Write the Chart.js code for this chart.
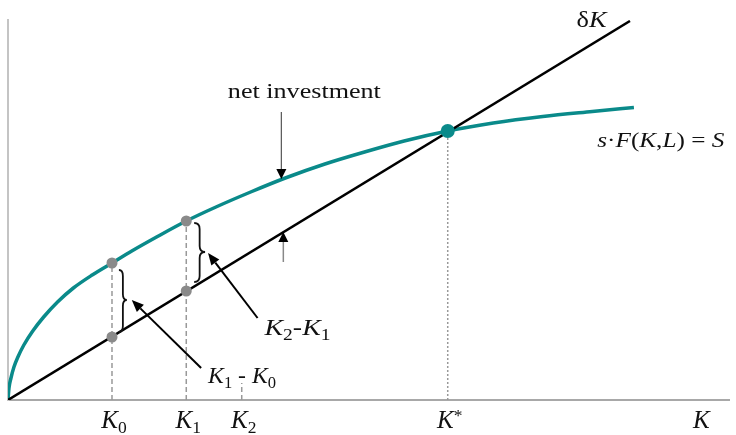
<!DOCTYPE html>
<html><head><meta charset="utf-8">
<script src="https://cdn.jsdelivr.net/npm/chart.js@4"></script>
<style>html,body{margin:0;padding:0;background:#fff;}canvas{display:block;}</style>
</head><body>
<canvas id="c" width="736" height="435"></canvas>
<script>
// Capital stock K along the savings curve (horizontal units)
const curveK  = [0, 1, 3, 6, 10, 16, 25, 36, 50, 66, 85, 105, 125, 150, 180, 210, 245, 280, 320, 360, 400, 444, 490, 540, 590, 632];
// Savings s·F(K,L) (vertical units)
const savings = [0, 12, 22, 33, 43, 55, 69, 83, 98, 112, 125, 137, 149, 163, 179, 193, 208, 222, 236, 248, 259, 269, 277, 283.5, 288.5, 292.5];
// Depreciation line δK endpoints
const deprK = [0, 628];
const deprY = [0, 379];
// Marked capital levels on the K axis
const markNames = ['K0', 'K1', 'K2', 'K*', 'K'];
const markK     = [105, 180, 236, 444, 700];
// Savings and depreciation at K0 and K1
const markSave = [137, 179];
const markDepr = [63, 109];
// Steady state height and the short K2 guide
const steadyY = 269;
const k2Guide = 17;
const axisMax = [728, 380];

const SERIF = '"Liberation Serif","Times New Roman",serif';
const TEAL = '#0a8a8a';

function pts(xs, ys){ return xs.map((x,i)=>({x, y:ys[i]})); }

function drawRich(ctx, segs, x, y, size, align, targetW){
  const parts = segs.map(s=>{
    const fs = (s.sub||s.sup) ? size*0.7 : size;
    const font = (s.i?'italic ':'') + fs + 'px ' + SERIF;
    ctx.font = font;
    return {t:s.t, font, w:ctx.measureText(s.t).width, dy: s.sub ? size*0.2 : (s.sup ? -size*0.3 : 0)};
  });
  const total = parts.reduce((a,p)=>a+p.w,0);
  const sx = targetW ? targetW/total : 1;
  let left = align==='center' ? x-total*sx/2 : x;
  ctx.save();
  ctx.translate(left, y);
  ctx.scale(sx, 1);
  ctx.textAlign='left'; ctx.textBaseline='alphabetic';
  let cx = 0;
  parts.forEach(p=>{ ctx.font=p.font; ctx.fillText(p.t, cx, p.dy); cx+=p.w; });
  ctx.restore();
}

function arrow(ctx, x1,y1,x2,y2, color, lw, hl, hw, headColor){
  const a = Math.atan2(y2-y1, x2-x1);
  const bx = x2 - hl*Math.cos(a), by = y2 - hl*Math.sin(a);
  ctx.save();
  ctx.strokeStyle=color; ctx.lineWidth=lw;
  ctx.beginPath(); ctx.moveTo(x1,y1); ctx.lineTo(bx,by); ctx.stroke();
  ctx.fillStyle=headColor||color;
  ctx.beginPath();
  ctx.moveTo(x2,y2);
  ctx.lineTo(bx + hw/2*Math.sin(a), by - hw/2*Math.cos(a));
  ctx.lineTo(bx - hw/2*Math.sin(a), by + hw/2*Math.cos(a));
  ctx.closePath(); ctx.fill();
  ctx.restore();
}

function brace(ctx, xl, xr, yt, yb, ym){
  const xm = (xl+xr)/2, q = 6;
  ctx.save(); ctx.strokeStyle='#111'; ctx.lineWidth=1.8;
  ctx.beginPath();
  ctx.moveTo(xl, yt);
  ctx.quadraticCurveTo(xm, yt, xm, yt+q);
  ctx.lineTo(xm, ym-q);
  ctx.quadraticCurveTo(xm, ym, xr, ym);
  ctx.quadraticCurveTo(xm, ym, xm, ym+q);
  ctx.lineTo(xm, yb-q);
  ctx.quadraticCurveTo(xm, yb, xl, yb);
  ctx.stroke(); ctx.restore();
}

// annotation anchors, in data units
const notes = {
  netInvText: {x:222, y:302, w:153},
  netArrow: [276, 288, 276, 221],
  upArrow: [278, 138, 278, 168],
  arrowK21: [252, 82, 202, 147],
  arrowK10: [195, 32, 125, 100],
  brace10: [112, 120, 130, 68, 100],
  brace21: [188, 199, 177, 118, 148],
  dkText: {x:574, y:373, w:30},
  sfText: {x:595, y:253, w:127},
  k21Text: {x:259, y:65, w:66},
  k10Text: {x:202, y:17, w:68}
};

const annot = {
  id:'annot',
  afterDatasetsDraw(chart){
    const ctx = chart.ctx, X = chart.scales.x, Y = chart.scales.y;
    const px = v=>X.getPixelForValue(v), py = v=>Y.getPixelForValue(v);
    ctx.save();
    ctx.fillStyle='#111';
    const n = notes;
    drawRich(ctx,[{t:'net investment'}], px(n.netInvText.x), py(n.netInvText.y), 22, 'left', n.netInvText.w);
    drawRich(ctx,[{t:'δ'},{t:'K',i:true}], px(n.dkText.x), py(n.dkText.y), 23, 'left', n.dkText.w);
    drawRich(ctx,[{t:'s',i:true},{t:'·'},{t:'F',i:true},{t:'('},{t:'K',i:true},{t:','},{t:'L',i:true},{t:') = '},{t:'S',i:true}], px(n.sfText.x), py(n.sfText.y), 22, 'left', n.sfText.w);
    drawRich(ctx,[{t:'K',i:true},{t:'2',sub:true},{t:'-'},{t:'K',i:true},{t:'1',sub:true}], px(n.k21Text.x), py(n.k21Text.y), 23, 'left', n.k21Text.w);
    drawRich(ctx,[{t:'K',i:true},{t:'1',sub:true},{t:' - '},{t:'K',i:true},{t:'0',sub:true}], px(n.k10Text.x), py(n.k10Text.y), 23, 'left', n.k10Text.w);
    // tick labels
    const base = Y.bottom + 28;
    markNames.forEach((nm,i)=>{
      let segs;
      if(nm==='K*') segs=[{t:'K',i:true},{t:'*',sup:true}];
      else if(nm.length>1) segs=[{t:'K',i:true},{t:nm.slice(1),sub:true}];
      else segs=[{t:'K',i:true}];
      drawRich(ctx, segs, px(markK[i])+(nm.length>1?2:0), base, 25, 'center');
    });
    // arrows
    let a = n.netArrow;
    arrow(ctx, px(a[0]),py(a[1]),px(a[2]),py(a[3]), '#555', 1.2, 10, 10, '#000');
    a = n.upArrow;
    arrow(ctx, px(a[0]),py(a[1]),px(a[2]),py(a[3]), '#888', 1.5, 10, 10, '#000');
    a = n.arrowK21;
    arrow(ctx, px(a[0]),py(a[1]),px(a[2]),py(a[3]), '#000', 2, 12, 10);
    a = n.arrowK10;
    arrow(ctx, px(a[0]),py(a[1]),px(a[2]),py(a[3]), '#000', 2, 12, 10);
    // braces
    let b = n.brace10;
    brace(ctx, px(b[0]), px(b[1]), py(b[2]), py(b[3]), py(b[4]));
    b = n.brace21;
    brace(ctx, px(b[0]), px(b[1]), py(b[2]), py(b[3]), py(b[4]));
    ctx.restore();
  }
};

const guide = (k, top, dash, color)=>({
  data:[{x:k,y:0},{x:k,y:top}], showLine:true, borderColor:color, borderWidth:1.5,
  borderDash:dash, pointRadius:0, order:5
});

new Chart(document.getElementById('c'), {
  type:'scatter',
  data:{datasets:[
    {data:[{x:markK[0],y:markSave[0]},{x:markK[0],y:markDepr[0]},{x:markK[1],y:markSave[1]},{x:markK[1],y:markDepr[1]}],
     pointRadius:5.5, backgroundColor:'#8a8a8a', borderWidth:0, order:0},
    {data:[{x:markK[3],y:steadyY}], pointRadius:7, backgroundColor:TEAL, borderWidth:0, order:0},
    {data:pts(curveK, savings), showLine:true, borderColor:TEAL, borderWidth:3.5, pointRadius:0, cubicInterpolationMode:'monotone', order:2},
    {data:pts(deprK, deprY), showLine:true, borderColor:'#000', borderWidth:2.5, pointRadius:0, order:1},
    guide(markK[0], markSave[0], [5,3], '#999'),
    guide(markK[1], markSave[1], [5,3], '#999'),
    guide(markK[2], k2Guide, [5,3], '#999'),
    guide(markK[3], steadyY, [2,2], '#999')
  ]},
  options:{
    responsive:false, animation:false, events:[],
    layout:{padding:{left:8, top:20, right:0, bottom:35}},
    plugins:{legend:{display:false}, tooltip:{enabled:false}},
    scales:{
      x:{type:'linear', min:0, max:axisMax[0], grid:{display:false, drawTicks:false}, ticks:{display:false}, border:{display:true, color:'#a8a8a8', width:2}},
      y:{type:'linear', min:0, max:axisMax[1], grid:{display:false, drawTicks:false}, ticks:{display:false}, border:{display:true, color:'#c4c4c4', width:2}}
    }
  },
  plugins:[annot]
});
</script>
</body></html>
